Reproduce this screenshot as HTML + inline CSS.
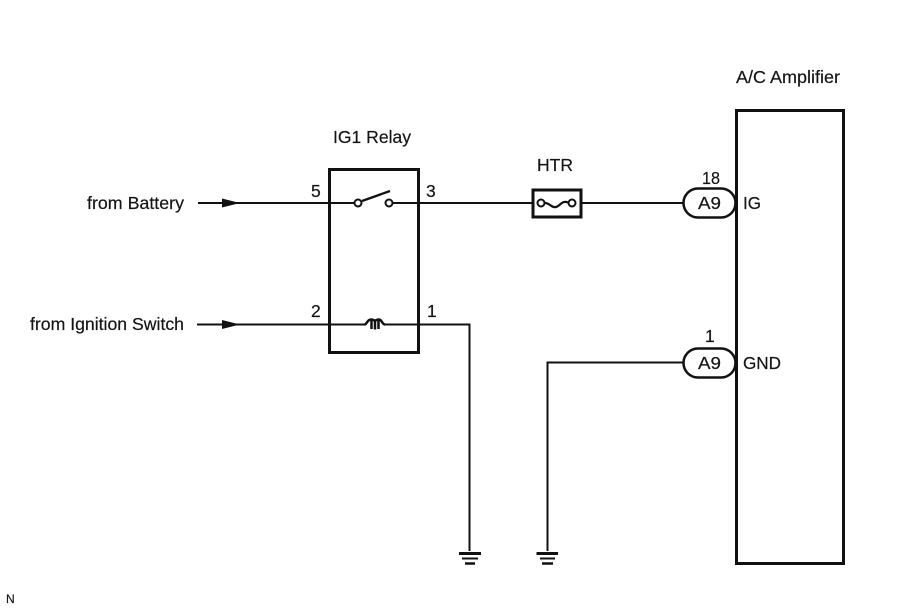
<!DOCTYPE html>
<html>
<head>
<meta charset="utf-8">
<style>
html,body{margin:0;padding:0;background:#fff;width:907px;height:610px;overflow:hidden}
svg{display:block}
text{font-family:"Liberation Sans",Arial,sans-serif;font-size:17.500px;fill:#151515;stroke:#151515;stroke-width:.2px}
</style>
</head>
<body>
<svg width="907" height="610" viewBox="0 0 907 610" xmlns="http://www.w3.org/2000/svg">
<rect width="907" height="610" fill="#fff"/>
<g fill="none" stroke="#111">
<!-- relay box -->
<rect x="329.500" y="169.500" width="89" height="183" stroke-width="3"/>
<!-- amplifier box -->
<rect x="736.500" y="110.500" width="107" height="453" stroke-width="3"/>
<!-- top wire -->
<path d="M198 203H354.500M392.500 203H533" stroke-width="2"/>
<path d="M581 203H683" stroke-width="2"/>
<!-- switch -->
<circle cx="358" cy="203" r="3.500" stroke-width="2"/>
<circle cx="389" cy="203" r="3.500" stroke-width="2"/>
<path d="M362 201L390 191" stroke-width="2.300"/>
<!-- lower wire -->
<path d="M197 324.500H365M384 324.500H469.500V551" stroke-width="2"/>
<!-- coil -->
<path d="M364.500 324.500C367 324.500 367 319.500 371 319.500C373 319.500 374 320.500 375 320.500C376 320.500 377 319.500 379 319.500C382 319.500 382 324.500 385 324.500" stroke-width="2.500"/>
<path d="M371.500 320V329M375 320V329.500M378.500 320V329" stroke-width="2.500"/>
<!-- fuse -->
<rect x="533" y="190" width="48" height="27" stroke-width="3"/>
<circle cx="541" cy="203" r="3.500" stroke-width="2"/>
<circle cx="572" cy="203" r="3.500" stroke-width="2"/>
<path d="M545 203C550 203 551 208 556 207C560 206 562 200 568 202.500" stroke-width="2.200"/>
<!-- connectors -->
<rect x="683.500" y="188.500" width="52" height="29" rx="14.500" ry="14.500" stroke-width="2.500"/>
<rect x="683.500" y="348.500" width="52" height="29" rx="14.500" ry="14.500" stroke-width="2.500"/>
<!-- GND wire -->
<path d="M683 362.500H547.500V551" stroke-width="2"/>
<!-- grounds -->
<path d="M459 553.500H481" stroke-width="3"/>
<path d="M462 558.500H478" stroke-width="2"/>
<path d="M465 563.500H475" stroke-width="2.500"/>
<path d="M536.500 553.500H558" stroke-width="3"/>
<path d="M540 558.500H555" stroke-width="2"/>
<path d="M542 563.500H553" stroke-width="2.500"/>
</g>
<!-- arrowheads -->
<path d="M222 198.500L240 203L222 207.500Z" fill="#111"/>
<path d="M222 320L240 324.500L222 329Z" fill="#111"/>
<!-- labels -->
<text x="736" y="83" textLength="104" lengthAdjust="spacingAndGlyphs">A/C Amplifier</text>
<text x="333" y="143" textLength="78" lengthAdjust="spacingAndGlyphs">IG1 Relay</text>
<text x="537" y="171" textLength="36" lengthAdjust="spacingAndGlyphs">HTR</text>
<text x="87" y="209" textLength="97" lengthAdjust="spacingAndGlyphs">from Battery</text>
<text x="30" y="330" textLength="154" lengthAdjust="spacingAndGlyphs">from Ignition Switch</text>
<text x="311" y="197">5</text>
<text x="426" y="197">3</text>
<text x="311" y="317">2</text>
<text x="427" y="317">1</text>
<text x="702" y="184" textLength="18" lengthAdjust="spacingAndGlyphs">18</text>
<text x="705" y="342">1</text>
<text x="698" y="209" textLength="23" lengthAdjust="spacingAndGlyphs">A9</text>
<text x="698" y="369" textLength="23" lengthAdjust="spacingAndGlyphs">A9</text>
<text x="743" y="209" textLength="18" lengthAdjust="spacingAndGlyphs">IG</text>
<text x="743" y="369" textLength="38" lengthAdjust="spacingAndGlyphs">GND</text>
<text x="6" y="603" style="font-size:12px">N</text>
</svg>
</body>
</html>
